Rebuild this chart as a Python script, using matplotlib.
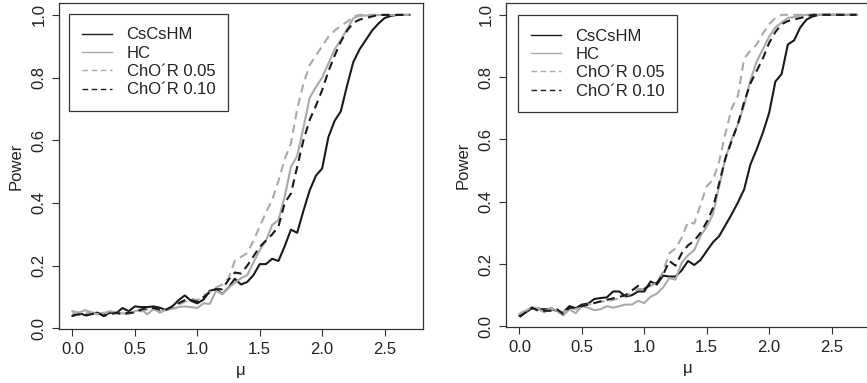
import numpy as np
import matplotlib
matplotlib.use("Agg")
import matplotlib.pyplot as plt

mu = [0.00, 0.05, 0.10, 0.15, 0.20, 0.25, 0.30, 0.35, 0.40, 0.45,
      0.50, 0.55, 0.60, 0.65, 0.70, 0.75, 0.80, 0.85, 0.90, 0.95,
      1.00, 1.05, 1.10, 1.15, 1.20, 1.25, 1.30, 1.35, 1.40, 1.45,
      1.50, 1.55, 1.60, 1.65, 1.70, 1.75, 1.80, 1.85, 1.90, 1.95,
      2.00, 2.05, 2.10, 2.15, 2.20, 2.25, 2.30, 2.35, 2.40, 2.45,
      2.50, 2.55, 2.60, 2.65, 2.70]

# ---- left panel ----
left_cscshm = [0.040, 0.050, 0.042, 0.048, 0.050, 0.040, 0.050, 0.048, 0.065, 0.055,
               0.070, 0.068, 0.068, 0.070, 0.066, 0.058, 0.070, 0.090, 0.105, 0.088,
               0.080, 0.092, 0.120, 0.125, 0.110, 0.130, 0.158, 0.140, 0.148, 0.170,
               0.205, 0.205, 0.222, 0.215, 0.262, 0.315, 0.305, 0.375, 0.440, 0.487,
               0.510, 0.610, 0.662, 0.693, 0.775, 0.850, 0.890, 0.920, 0.950, 0.972,
               0.990, 0.997, 1.000, 1.000, 1.000]
left_hc = [0.055, 0.050, 0.058, 0.052, 0.045, 0.048, 0.055, 0.050, 0.048, 0.045,
           0.055, 0.060, 0.045, 0.062, 0.050, 0.060, 0.062, 0.068, 0.070, 0.068,
           0.065, 0.080, 0.078, 0.120, 0.110, 0.130, 0.145, 0.160, 0.170, 0.210,
           0.250, 0.280, 0.330, 0.345, 0.420, 0.515, 0.550, 0.640, 0.735, 0.770,
           0.800, 0.845, 0.890, 0.920, 0.955, 0.990, 0.997, 0.998, 1.000, 1.000,
           1.000, 1.000, 1.000, 1.000, 1.000]
left_chor05 = [0.050, 0.045, 0.050, 0.048, 0.045, 0.050, 0.048, 0.050, 0.045, 0.050,
               0.050, 0.055, 0.060, 0.060, 0.055, 0.060, 0.065, 0.075, 0.085, 0.095,
               0.090, 0.105, 0.115, 0.130, 0.140, 0.160, 0.215, 0.228, 0.240, 0.280,
               0.325, 0.370, 0.410, 0.470, 0.540, 0.590, 0.700, 0.780, 0.840, 0.870,
               0.900, 0.930, 0.950, 0.965, 0.978, 0.995, 1.000, 1.000, 1.000, 1.000,
               1.000, 1.000, 1.000, 1.000, 1.000]
left_chor10 = [0.040, 0.045, 0.040, 0.045, 0.050, 0.040, 0.045, 0.050, 0.045, 0.050,
               0.050, 0.060, 0.065, 0.065, 0.060, 0.060, 0.070, 0.080, 0.090, 0.090,
               0.085, 0.100, 0.115, 0.125, 0.125, 0.155, 0.178, 0.175, 0.200, 0.230,
               0.260, 0.280, 0.300, 0.325, 0.400, 0.430, 0.515, 0.600, 0.665, 0.710,
               0.760, 0.820, 0.870, 0.915, 0.950, 0.975, 0.985, 0.990, 0.995, 1.000,
               1.000, 1.000, 1.000, 1.000, 1.000]

# ---- right panel ----
right_cscshm = [0.035, 0.045, 0.058, 0.055, 0.055, 0.055, 0.050, 0.045, 0.065, 0.058,
                0.070, 0.073, 0.088, 0.091, 0.093, 0.112, 0.112, 0.096, 0.100, 0.112,
                0.112, 0.144, 0.134, 0.163, 0.160, 0.160, 0.180, 0.210, 0.197, 0.213,
                0.242, 0.270, 0.290, 0.325, 0.360, 0.398, 0.440, 0.520, 0.568, 0.622,
                0.685, 0.786, 0.810, 0.905, 0.918, 0.960, 0.985, 0.995, 1.000, 1.000,
                1.000, 1.000, 1.000, 1.000, 1.000]
right_hc = [0.040, 0.050, 0.062, 0.055, 0.045, 0.060, 0.050, 0.035, 0.055, 0.042,
            0.065, 0.060, 0.052, 0.055, 0.065, 0.060, 0.065, 0.070, 0.070, 0.082,
            0.075, 0.095, 0.105, 0.125, 0.155, 0.150, 0.205, 0.228, 0.245, 0.290,
            0.320, 0.360, 0.450, 0.540, 0.600, 0.650, 0.710, 0.790, 0.850, 0.890,
            0.930, 0.960, 0.975, 0.990, 0.993, 0.998, 1.000, 1.000, 1.000, 1.000,
            1.000, 1.000, 1.000, 1.000, 1.000]
right_chor05 = [0.040, 0.050, 0.058, 0.060, 0.050, 0.055, 0.050, 0.045, 0.060, 0.055,
                0.065, 0.070, 0.075, 0.080, 0.080, 0.085, 0.090, 0.100, 0.105, 0.120,
                0.120, 0.130, 0.140, 0.175, 0.235, 0.250, 0.285, 0.335, 0.330, 0.390,
                0.450, 0.470, 0.530, 0.620, 0.700, 0.740, 0.860, 0.885, 0.905, 0.940,
                0.970, 0.990, 1.000, 1.000, 1.000, 1.000, 1.000, 1.000, 1.000, 1.000,
                1.000, 1.000, 1.000, 1.000, 1.000]
right_chor10 = [0.030, 0.045, 0.060, 0.050, 0.050, 0.050, 0.055, 0.040, 0.060, 0.060,
                0.065, 0.070, 0.075, 0.080, 0.085, 0.090, 0.095, 0.100, 0.115, 0.130,
                0.120, 0.135, 0.140, 0.165, 0.210, 0.195, 0.235, 0.260, 0.275, 0.300,
                0.335, 0.380, 0.460, 0.540, 0.595, 0.650, 0.720, 0.780, 0.820, 0.860,
                0.910, 0.945, 0.970, 0.980, 0.985, 0.990, 0.995, 1.000, 1.000, 1.000,
                1.000, 1.000, 1.000, 1.000, 1.000]

labels = ["CsCsHM", "HC", "ChO\u00b4R 0.05", "ChO\u00b4R 0.10"]
xticks = [0.0, 0.5, 1.0, 1.5, 2.0, 2.5]
yticks = [0.0, 0.2, 0.4, 0.6, 0.8, 1.0]

BLACK = "#1a1a1a"
GREY = "#aaaaaa"
styles = [dict(color=BLACK, ls="-"),
          dict(color=GREY, ls="-"),
          dict(color=GREY, ls=(0, (4, 2.6))),
          dict(color=BLACK, ls=(0, (4, 2.6)))]

plt.rcParams["font.family"] = ["Liberation Sans", "DejaVu Sans"]
FS = 12.0

W, H = 867, 383
fig = plt.figure(figsize=(W / 100, H / 100), dpi=100)

panels = [
    (59, 423, 3, 329, (0.0275, 0.966), [left_cscshm, left_hc, left_chor05, left_chor10]),
    (506, 870, 3, 327, (0.033, 0.962), [right_cscshm, right_hc, right_chor05, right_chor10]),
]

for (x0, x1, y0, y1, anchor, series) in panels:
    ax = fig.add_axes([x0 / W, 1 - y1 / H, (x1 - x0) / W, (y1 - y0) / H])
    for s, st, lab in zip(series, styles, labels):
        ax.plot(mu, s, lw=1.5, label=lab, **st)
    ax.set_xlim(-0.108, 2.808)
    ax.set_ylim(-0.002, 1.038)
    ax.set_xticks(xticks)
    ax.set_xticklabels([f"{t:.1f}" for t in xticks], fontsize=FS)
    ax.set_yticks(yticks)
    ax.set_yticklabels([f"{t:.1f}" for t in yticks], fontsize=FS,
                       rotation=90, va="center")
    ax.tick_params(axis="both", length=5, width=0.8, color="#333333",
                   labelcolor="#222222")
    ax.tick_params(axis="x", pad=4)
    ax.tick_params(axis="y", pad=4)
    for sp in ax.spines.values():
        sp.set_linewidth(0.9)
        sp.set_color("#333333")
    ax.set_xlabel("\u03bc", fontsize=FS, labelpad=5, color="#222222")
    ax.set_ylabel("Power", fontsize=FS, labelpad=6, color="#222222")
    leg = ax.legend(loc="upper left", bbox_to_anchor=anchor,
                    fontsize=FS, frameon=True, fancybox=False,
                    edgecolor="#333333", framealpha=1, handlelength=1.75,
                    handletextpad=0.9, borderpad=0.8, labelspacing=0.2,
                    borderaxespad=0)
    leg.get_frame().set_linewidth(0.9)
    for ln in leg.get_lines():
        ln.set_linewidth(1.0)
    for t in leg.get_texts():
        t.set_color("#222222")

fig.savefig("out.png", dpi=100)
